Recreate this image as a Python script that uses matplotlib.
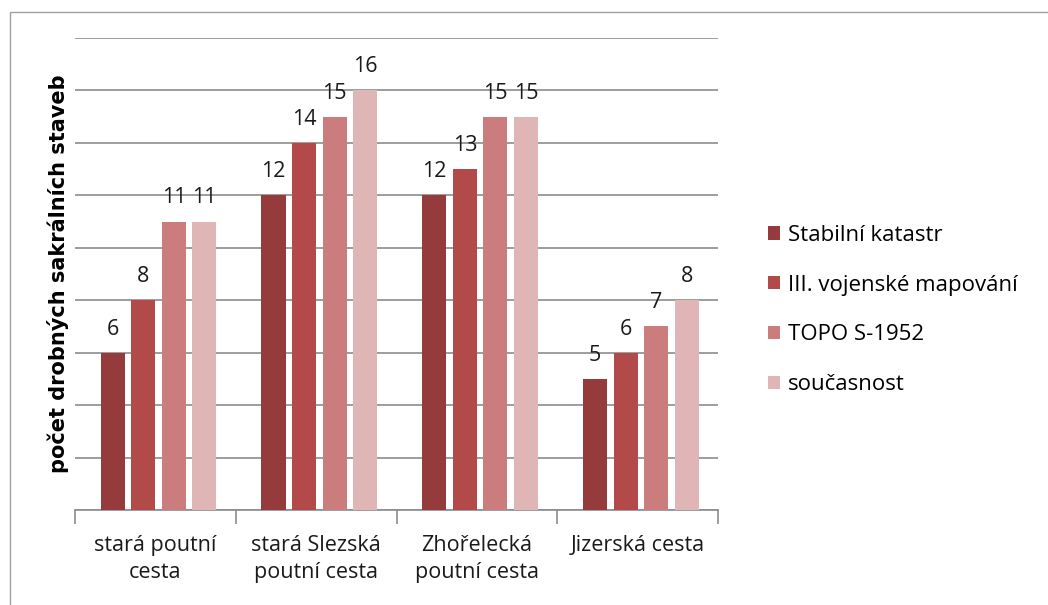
import numpy as np
import matplotlib.pyplot as plt
from matplotlib.patches import Patch

# Data
categories = ['stará poutní\ncesta', 'stará Slezská\npoutní cesta',
              'Zhořelecká\npoutní cesta', 'Jizerská cesta']
series = ['Stabilní katastr', 'III. vojenské mapování', 'TOPO S-1952', 'současnost']
values = [
    [6, 12, 12, 5],
    [8, 14, 13, 6],
    [11, 15, 15, 7],
    [11, 16, 15, 8],
]
colors = ['#953B3B', '#B34A4A', '#CB7C7C', '#E0B5B5']

plt.rcParams['font.family'] = ['Open Sans', 'DejaVu Sans']

fig = plt.figure(figsize=(10.48, 6.05), dpi=100)
ax = fig.add_axes([75 / 1048, 1 - 510 / 605, 643 / 1048, 472 / 605])

# frame around the chart area
fig.patches.append(plt.Rectangle((10 / 1048, -0.05), 1.1, 1 - 12 / 605 + 0.05,
                                 transform=fig.transFigure, fill=False,
                                 edgecolor='#A0A0A0', linewidth=1))

x = np.arange(len(categories))
step = 0.19
width = 0.15
for i, (vals, c) in enumerate(zip(values, colors)):
    pos = x + (i - 1.5) * step + 0.02
    ax.bar(pos, vals, width=width, color=c, zorder=3)
    for p, v in zip(pos, vals):
        ax.text(p, v + 0.5, str(v), ha='center', va='bottom', fontsize=15.5, color='#1a1a1a')

ax.set_xlim(-0.5, len(categories) - 0.5)
ax.set_ylim(0, 18)
ax.set_yticks(np.arange(0, 19, 2))
ax.yaxis.grid(True, color='#8C8C8C', linewidth=1.2, zorder=0)
ax.tick_params(axis='y', left=False, labelleft=False)
for s in ['top', 'right', 'left']:
    ax.spines[s].set_visible(False)
ax.spines['bottom'].set_color('#8C8C8C')
ax.spines['bottom'].set_linewidth(1.2)

ax.set_xticks(np.arange(-0.5, len(categories), 1))
ax.set_xticklabels([])
ax.tick_params(axis='x', length=10, color='#8C8C8C', width=1.2, direction='out')
for xi, lab in zip(x, categories):
    ax.text(xi, -0.95, lab, ha='center', va='top', fontsize=15.5, color='#1a1a1a',
            linespacing=1.4, transform=ax.transData)

ax.set_ylabel('počet drobných sakrálních staveb', fontsize=15, fontweight='bold',
              family=['DejaVu Sans'], labelpad=4)

handles = [Patch(facecolor=c, label=s) for c, s in zip(colors, series)]
fig.legend(handles=handles, loc='center left', bbox_to_anchor=(748 / 1048, 1 - 310 / 605),
           frameon=False, fontsize=16, handlelength=0.55, handleheight=0.55,
           handletextpad=0.35, labelspacing=1.3)

fig.savefig('out.png', dpi=100)
